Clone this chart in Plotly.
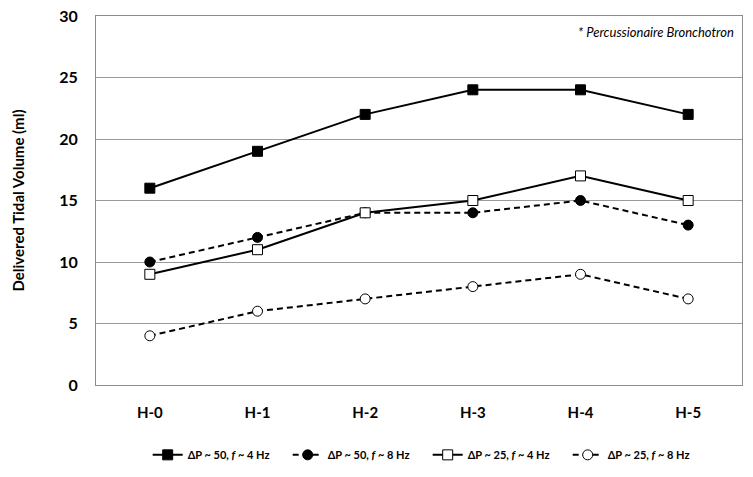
import plotly.graph_objects as go

categories = ["H-0", "H-1", "H-2", "H-3", "H-4", "H-5"]
s1 = [16, 19, 22, 24, 24, 22]   # ΔP~50, f~4 Hz
s2 = [10, 12, 14, 14, 15, 13]   # ΔP~50, f~8 Hz
s3 = [9, 11, 14, 15, 17, 15]    # ΔP~25, f~4 Hz
s4 = [4, 6, 7, 8, 9, 7]         # ΔP~25, f~8 Hz
names = ["ΔP ~ 50, <i>f</i> ~ 4 Hz", "ΔP ~ 50, <i>f</i> ~ 8 Hz",
         "ΔP ~ 25, <i>f</i> ~ 4 Hz", "ΔP ~ 25, <i>f</i> ~ 8 Hz"]
yticks = [0, 5, 10, 15, 20, 25, 30]

FONT = "Lato"
fig = go.Figure()
styles = [
    dict(dash="solid", symbol="square", fill="black"),
    dict(dash="6px,4px", symbol="circle", fill="black"),
    dict(dash="solid", symbol="square", fill="white"),
    dict(dash="6px,4px", symbol="circle", fill="white"),
]
for vals, nm, st in zip([s1, s2, s3, s4], names, styles):
    fig.add_trace(go.Scatter(
        x=categories, y=vals, name=nm, mode="lines+markers",
        line=dict(color="black", width=2, dash=st["dash"]),
        marker=dict(symbol=st["symbol"], size=10, color=st["fill"],
                    line=dict(color="black", width=1)),
    ))

fig.update_layout(
    width=753, height=477,
    margin=dict(l=96, r=11, t=16, b=92, autoexpand=False),
    plot_bgcolor="white", paper_bgcolor="white",
    font=dict(family=FONT, color="black"),
    xaxis=dict(type="category", range=[-0.5, 5.5], showgrid=False,
               showline=True, linecolor="#8c8c8c", linewidth=1, mirror=True,
               ticks="", ticklabelstandoff=14, automargin=False,
               tickfont=dict(size=15, family=FONT, weight="bold")),
    yaxis=dict(range=[0, 30], tickvals=yticks, showgrid=True,
               gridcolor="#9a9a9a", gridwidth=1, zeroline=False,
               showline=True, linecolor="#8c8c8c", linewidth=1, mirror=True,
               ticks="", ticklabelstandoff=14, automargin=False,
               ticklabeloverflow="allow",
               tickfont=dict(size=16, family=FONT, weight="bold"),
               title=dict(text="Delivered Tidal Volume (ml)", standoff=30,
                          font=dict(size=15, family=FONT, weight="bold"))),
    legend=dict(orientation="h", x=0.08, xanchor="left", y=-0.15, yanchor="top",
                font=dict(size=11, family=FONT, weight="bold"),
                entrywidth=95, entrywidthmode="pixels", itemwidth=30),
    annotations=[dict(text="<i>* Percussionaire Bronchotron</i>",
                      xref="paper", yref="paper", x=0.99, y=0.985,
                      xanchor="right", yanchor="top", showarrow=False,
                      font=dict(size=13, family=FONT))],
)
# remove the browser's default body margin so the figure fills the window
fig.write_html("out.html", config={"displayModeBar": False},
               post_script="document.body.style.margin='0';document.body.style.overflow='hidden';")
